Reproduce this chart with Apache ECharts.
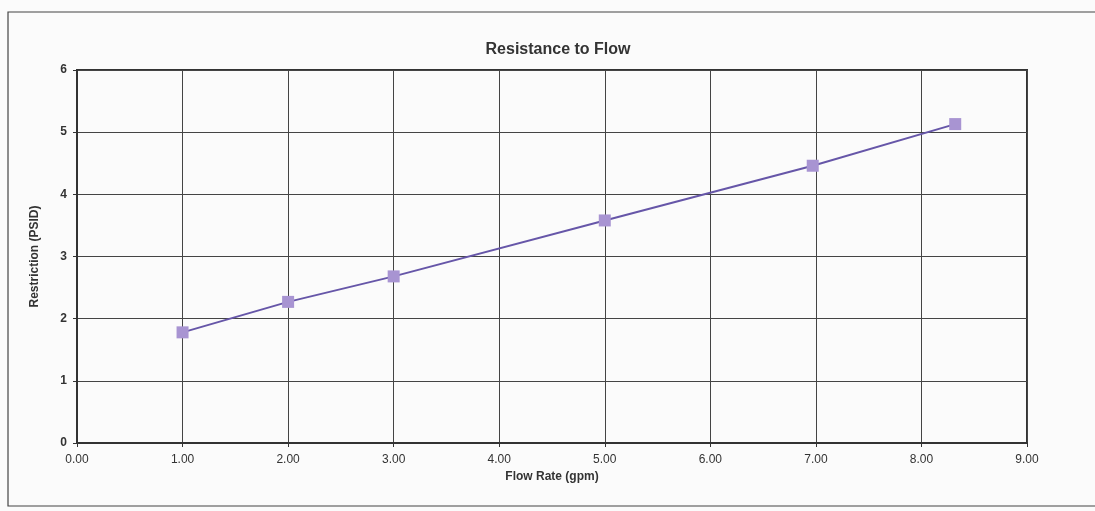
<!DOCTYPE html>
<html><head><meta charset="utf-8">
<script src="https://cdn.jsdelivr.net/npm/echarts@6/dist/echarts.min.js"></script>
<style>html,body{margin:0;padding:0;background:#fbfbfb;}#c{width:1095px;height:511px;}</style>
</head><body><div id="c"></div>
<script>
const flowRate = [1.00, 2.00, 3.00, 5.00, 6.97, 8.32];
const restriction = [1.78, 2.27, 2.68, 3.58, 4.46, 5.13];
const titleText = 'Resistance to Flow';
const xName = 'Flow Rate (gpm)';
const yName = 'Restriction (PSID)';

const chart = echarts.init(document.getElementById('c'));
const font = 'Liberation Sans, Arial, sans-serif';
chart.setOption({
  backgroundColor: '#fbfbfb',
  animation: false,
  graphic: [{type:'rect', shape:{x:8, y:12, width:1100, height:494}, style:{fill:'none', stroke:'#444', lineWidth:1.2}, z:-1}],
  title: {text: titleText, left: 553, top: 37, textAlign: 'center',
    textStyle: {fontFamily: font, fontSize: 16, fontWeight: 'bold', color: '#333'}},
  grid: {left: 77, right: 68, top: 70, bottom: 68, show: true, borderColor: '#333', borderWidth: 2},
  xAxis: {type: 'value', min: 0, max: 9, interval: 1, name: xName, nameLocation: 'middle', nameGap: 26,
    nameTextStyle: {fontFamily: font, fontSize: 12, fontWeight: 'bold', color: '#333'},
    axisLine: {show: true, onZero: false, lineStyle: {color: '#333', width: 2}},
    axisTick: {show: true, length: 4, inside: false, lineStyle: {color: '#333'}},
    axisLabel: {fontFamily: font, fontSize: 12, color: '#333', margin: 11, formatter: v => v.toFixed(2)},
    splitLine: {show: true, lineStyle: {color: '#444', width: 1}}},
  yAxis: {type: 'value', min: 0, max: 6, interval: 1, name: yName, nameLocation: 'middle', nameGap: 36,
    nameTextStyle: {fontFamily: font, fontSize: 12, fontWeight: 'bold', color: '#333'},
    axisLine: {show: true, lineStyle: {color: '#333', width: 2}},
    axisTick: {show: true, length: 4, lineStyle: {color: '#333'}},
    axisLabel: {fontFamily: font, fontSize: 12, fontWeight: 'bold', color: '#333', margin: 10},
    splitLine: {show: true, lineStyle: {color: '#444', width: 1}}},
  series: [{type: 'line', data: flowRate.map((x, i) => [x, restriction[i]]),
    symbol: 'rect', symbolSize: 12,
    lineStyle: {color: '#6656a8', width: 2},
    itemStyle: {color: '#a894d2', borderWidth: 0}}]
});
</script></body></html>
